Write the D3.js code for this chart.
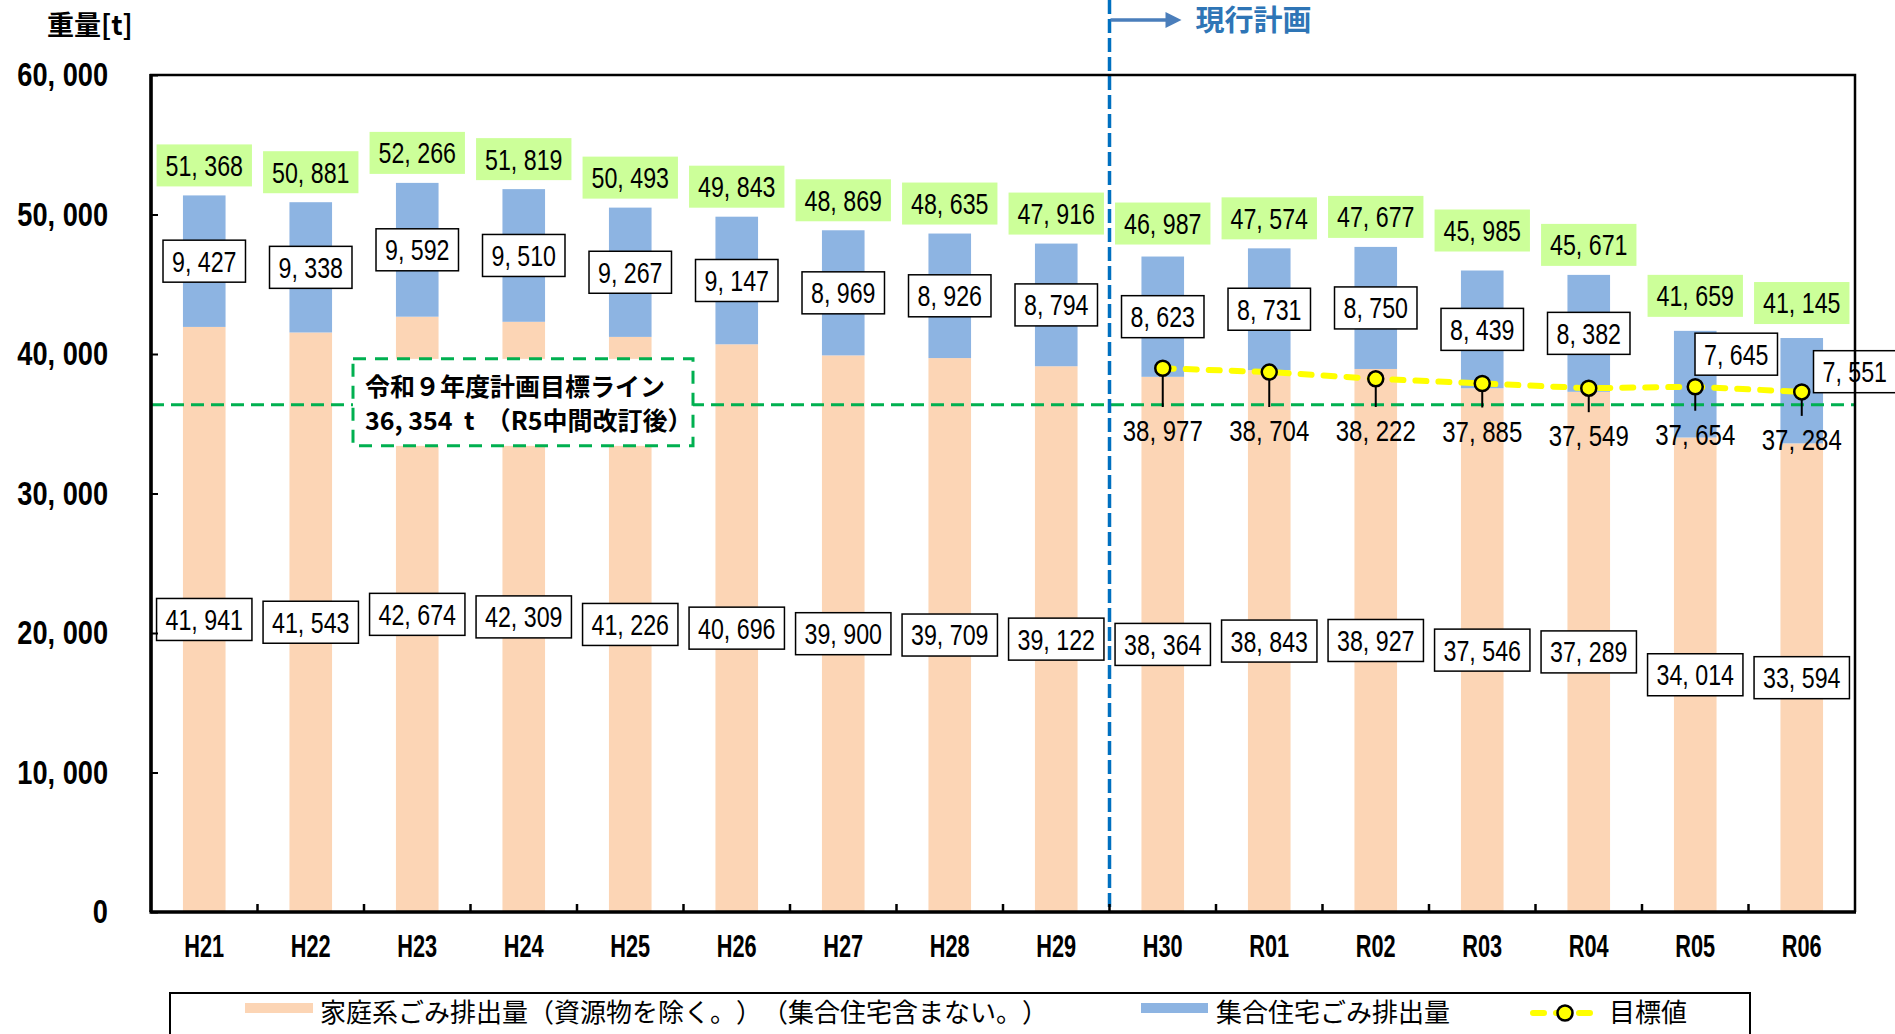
<!DOCTYPE html>
<html>
<head>
<meta charset="utf-8">
<script src="https://cdn.jsdelivr.net/npm/d3@7"></script>
<style>
  body { margin: 0; background: #fff; }
  svg { display: block; }
  .num { font-family: 'Liberation Sans', Arial, sans-serif; }
  .jp { font-family: 'Noto Sans CJK JP', 'Noto Sans', sans-serif; text-spacing-trim: space-all; }
</style>
</head>
<body>
<div id="chart"></div>
<script>
const categories = ['H21', 'H22', 'H23', 'H24', 'H25', 'H26', 'H27', 'H28', 'H29', 'H30', 'R01', 'R02', 'R03', 'R04', 'R05', 'R06']
const householdWaste = [41941, 41543, 42674, 42309, 41226, 40696, 39900, 39709, 39122, 38364, 38843, 38927, 37546, 37289, 34014, 33594]
const apartmentWaste = [9427, 9338, 9592, 9510, 9267, 9147, 8969, 8926, 8794, 8623, 8731, 8750, 8439, 8382, 7645, 7551]
const totalWaste = [51368, 50881, 52266, 51819, 50493, 49843, 48869, 48635, 47916, 46987, 47574, 47677, 45985, 45671, 41659, 41145]
const targetCategories = ['H30', 'R01', 'R02', 'R03', 'R04', 'R05', 'R06']
const targetValues = [38977, 38704, 38222, 37885, 37549, 37654, 37284]
const planTarget = 36354
const yTicks = [0, 10000, 20000, 30000, 40000, 50000, 60000]
const currentPlanStart = 'H30'

const W = 1895, H = 1034
const margin = { top: 75, right: 40, bottom: 122, left: 151 }
const plotR = W - margin.right, plotB = H - margin.bottom
const NARROW = 0.8   // the original uses a condensed face; squeeze Liberation Sans to match

const colors = {
  household: '#fcd5b5',
  apartment: '#8db4e2',
  totalBg: '#ccff99',
  target: '#ffff00',
  planLine: '#00b050',
  divider: '#0070c0',
  arrow: '#4a7ebb',
  planText: '#2e75b6'
}

/* nudges for hand-placed labels in the original */
const totalLabelNudge = { H30: -3, R03: -10, R05: -5, R06: -5 }
const apartmentLabelShift = { R05: [41, -30], R06: [53, -19] }

const fmt = v => d3.format(',')(v).replace(',', ', ')

const svg = d3.select('#chart').append('svg')
  .attr('width', W)
  .attr('height', H)

const x = d3.scaleBand()
  .domain(categories)
  .range([margin.left, plotR])
  .paddingInner(0.6)
  .paddingOuter(0.3)

const y = d3.scaleLinear()
  .domain([0, 60000])
  .range([plotB, margin.top])

const cx = c => x(c) + x.bandwidth() / 2

const rows = categories.map((c, i) => ({
  cat: c, household: householdWaste[i], apartment: apartmentWaste[i], total: totalWaste[i]
}))
const stacked = d3.stack().keys(['household', 'apartment'])(rows)

/* bars */
const barG = svg.append('g')
barG.selectAll('g')
  .data(stacked)
  .join('g')
  .attr('fill', d => colors[d.key])
  .selectAll('rect')
  .data(d => d)
  .join('rect')
  .attr('x', d => x(d.data.cat))
  .attr('width', x.bandwidth())
  .attr('y', d => y(d[1]))
  .attr('height', d => y(d[0]) - y(d[1]))

/* plan target line */
svg.append('line')
  .attr('x1', margin.left).attr('x2', plotR)
  .attr('y1', y(planTarget)).attr('y2', y(planTarget))
  .attr('stroke', colors.planLine)
  .attr('stroke-width', 3)
  .attr('stroke-dasharray', '13 7')

/* target series */
const targets = targetCategories.map((c, i) => ({ cat: c, value: targetValues[i] }))

svg.append('path')
  .datum(targets)
  .attr('fill', 'none')
  .attr('stroke', colors.target)
  .attr('stroke-width', 6)
  .attr('stroke-linecap', 'round')
  .attr('stroke-dasharray', '11 12')
  .attr('d', d3.line().x(d => cx(d.cat)).y(d => y(d.value)))

function boxLabel(g, text, fill, stroke) {
  const t = g.append('text')
    .attr('class', 'num')
    .attr('text-anchor', 'middle')
    .attr('dy', '0.36em')
    .attr('font-size', 29)
    .attr('fill', '#000')
    .attr('transform', `scale(${NARROW},1)`)
    .text(text)
  const w = t.node().getComputedTextLength() * NARROW + 18
  g.insert('rect', 'text')
    .attr('x', -w / 2).attr('y', -21)
    .attr('width', w).attr('height', 42)
    .attr('fill', fill)
    .attr('stroke', stroke || 'none')
    .attr('stroke-width', 1.5)
}

/* leader lines + target points */
const baseOf = d => Math.max(441, y(d.value) + 58)
svg.append('g').selectAll('line')
  .data(targets)
  .join('line')
  .attr('x1', d => cx(d.cat)).attr('x2', d => cx(d.cat))
  .attr('y1', d => y(d.value)).attr('y2', d => baseOf(d) - 34)
  .attr('stroke', '#000')
  .attr('stroke-width', 2)

svg.append('g').selectAll('circle')
  .data(targets)
  .join('circle')
  .attr('cx', d => cx(d.cat))
  .attr('cy', d => y(d.value))
  .attr('r', 7.5)
  .attr('fill', colors.target)
  .attr('stroke', '#000')
  .attr('stroke-width', 2.5)

svg.append('g').selectAll('text')
  .data(targets)
  .join('text')
  .attr('class', 'num')
  .attr('transform', d => `translate(${cx(d.cat)},${baseOf(d)}) scale(${NARROW},1)`)
  .attr('text-anchor', 'middle')
  .attr('font-size', 30)
  .text(d => fmt(d.value))

/* segment labels */
rows.forEach(r => {
  const sh = apartmentLabelShift[r.cat] || [0, 0]
  boxLabel(svg.append('g')
    .attr('transform', `translate(${cx(r.cat) + sh[0]},${y(r.household + r.apartment / 2) + sh[1]})`),
    fmt(r.apartment), '#fff', '#000')
  boxLabel(svg.append('g')
    .attr('transform', `translate(${cx(r.cat)},${y(r.household / 2)})`),
    fmt(r.household), '#fff', '#000')
  boxLabel(svg.append('g')
    .attr('transform', `translate(${cx(r.cat)},${y(r.total) - 30 + (totalLabelNudge[r.cat] || 0)})`),
    fmt(r.total), colors.totalBg)
})

/* plan target annotation */
const ann = svg.append('g')
  .attr('transform', `translate(${margin.left + 202},${y(planTarget) - 46})`)
ann.append('rect')
  .attr('width', 340).attr('height', 87)
  .attr('fill', '#fff')
  .attr('stroke', colors.planLine)
  .attr('stroke-width', 3)
  .attr('stroke-dasharray', '13 9')
ann.append('text')
  .attr('class', 'jp')
  .attr('x', 12).attr('y', 37)
  .attr('font-size', 25)
  .attr('font-weight', 'bold')
  .text('令和９年度計画目標ライン')
ann.append('text')
  .attr('class', 'jp')
  .attr('x', 12).attr('y', 71)
  .attr('font-size', 25)
  .attr('font-weight', 'bold')
  .style('white-space', 'pre')
  .text(`${fmt(planTarget)}  t  （R5中間改訂後）`)

/* current plan divider */
const divX = (x(currentPlanStart) + x(categories[categories.indexOf(currentPlanStart) - 1]) + x.bandwidth()) / 2
svg.append('line')
  .attr('x1', divX).attr('x2', divX)
  .attr('y1', 0).attr('y2', plotB)
  .attr('stroke', colors.divider)
  .attr('stroke-width', 3.5)
  .attr('stroke-dasharray', '14 5')

svg.append('line')
  .attr('x1', divX + 1).attr('x2', divX + 58)
  .attr('y1', 20).attr('y2', 20)
  .attr('stroke', colors.arrow)
  .attr('stroke-width', 3.5)
svg.append('path')
  .attr('d', `M${divX + 56},12 L${divX + 72},20 L${divX + 56},28 Z`)
  .attr('fill', colors.arrow)
svg.append('text')
  .attr('class', 'jp')
  .attr('x', divX + 86).attr('y', 31)
  .attr('font-size', 29)
  .attr('font-weight', 'bold')
  .attr('fill', colors.planText)
  .text('現行計画')

/* axes */
const yAxis = svg.append('g')
  .attr('transform', `translate(${margin.left},0)`)
  .call(d3.axisLeft(y).tickValues(yTicks).tickFormat(fmt).tickSize(-7).tickPadding(43))
yAxis.select('.domain').remove()
yAxis.selectAll('line').attr('stroke', '#000').attr('stroke-width', 2)
yAxis.selectAll('text')
  .attr('class', 'num')
  .attr('font-size', 34)
  .attr('font-weight', 'bold')
  .attr('fill', '#000')
  .attr('x', -43 / NARROW)
  .attr('transform', `scale(${NARROW},1)`)

const xAxis = svg.append('g')
  .attr('transform', `translate(0,${plotB})`)
  .call(d3.axisBottom(x).tickSize(0).tickPadding(22))
xAxis.select('.domain').remove()
xAxis.selectAll('text')
  .attr('class', 'num')
  .attr('font-size', 32)
  .attr('font-weight', 'bold')
  .attr('fill', '#000')
  .attr('transform', 'scale(0.68,1)')

/* category boundary ticks */
svg.append('g').selectAll('line')
  .data(categories.slice(1))
  .join('line')
  .attr('x1', d => x(d) - x.step() * x.paddingInner() / 2)
  .attr('x2', d => x(d) - x.step() * x.paddingInner() / 2)
  .attr('y1', plotB).attr('y2', plotB - 8)
  .attr('stroke', '#000')
  .attr('stroke-width', 2.5)

/* frame */
svg.append('path')
  .attr('d', `M${margin.left},${plotB} L${margin.left},${margin.top} L${plotR},${margin.top} L${plotR},${plotB}`)
  .attr('fill', 'none')
  .attr('stroke', '#000')
  .attr('stroke-width', 2.5)
svg.append('line')
  .attr('x1', margin.left - 1.5).attr('x2', plotR + 1)
  .attr('y1', plotB).attr('y2', plotB)
  .attr('stroke', '#000').attr('stroke-width', 3.5)
svg.append('line')
  .attr('x1', margin.left).attr('x2', margin.left)
  .attr('y1', margin.top - 1).attr('y2', plotB)
  .attr('stroke', '#000').attr('stroke-width', 3.5)

/* y title */
svg.append('text')
  .attr('class', 'jp')
  .attr('x', 47).attr('y', 35)
  .attr('font-size', 27)
  .attr('font-weight', 'bold')
  .text('重量[t]')

/* legend */
const lg = svg.append('g')
lg.append('rect')
  .attr('x', 170).attr('y', 993)
  .attr('width', 1580).attr('height', 60)
  .attr('fill', '#fff')
  .attr('stroke', '#000')
  .attr('stroke-width', 2)
lg.append('rect').attr('x', 245).attr('y', 1003).attr('width', 68).attr('height', 10).attr('fill', colors.household)
lg.append('text').attr('class', 'jp').attr('x', 320).attr('y', 1022).attr('font-size', 26)
  .text('家庭系ごみ排出量（資源物を除く。）（集合住宅含まない。）')
lg.append('rect').attr('x', 1141).attr('y', 1003).attr('width', 67).attr('height', 10).attr('fill', colors.apartment)
lg.append('text').attr('class', 'jp').attr('x', 1216).attr('y', 1022).attr('font-size', 26)
  .text('集合住宅ごみ排出量')
lg.append('line')
  .attr('x1', 1533).attr('x2', 1600).attr('y1', 1013).attr('y2', 1013)
  .attr('stroke', colors.target).attr('stroke-width', 6)
  .attr('stroke-linecap', 'round').attr('stroke-dasharray', '11 12')
lg.append('circle').attr('cx', 1565).attr('cy', 1013).attr('r', 7.5)
  .attr('fill', colors.target).attr('stroke', '#000').attr('stroke-width', 2.5)
lg.append('text').attr('class', 'jp').attr('x', 1609).attr('y', 1022).attr('font-size', 26)
  .text('目標値')
</script>
</body>
</html>
